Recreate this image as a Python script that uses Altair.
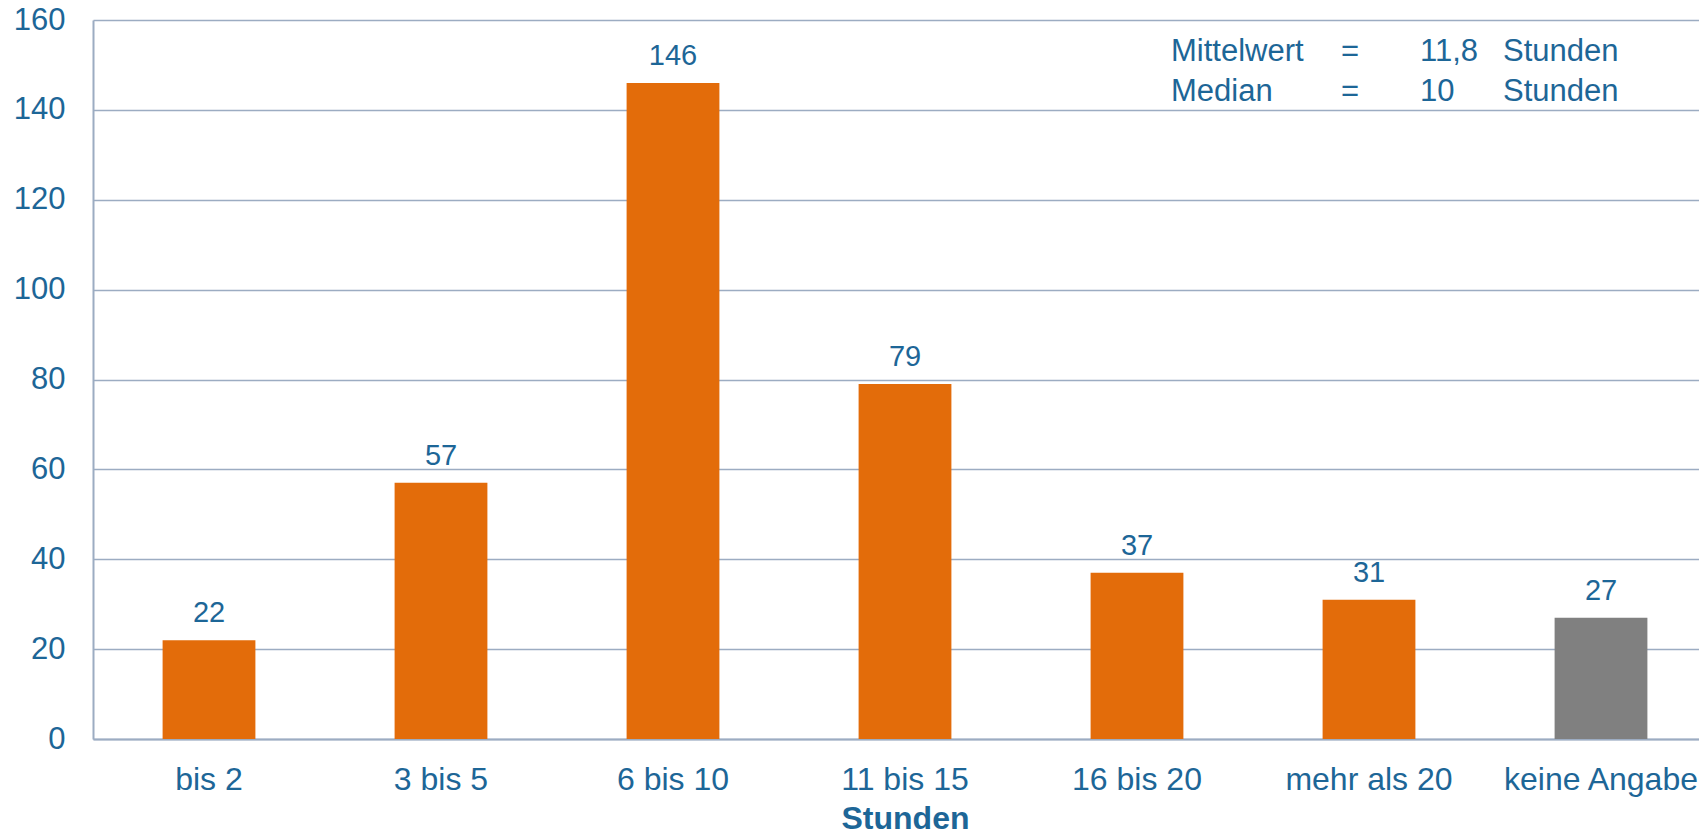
import altair as alt
import pandas as pd

# Weekly hours, respondents per class
categories = ["bis 2", "3 bis 5", "6 bis 10", "11 bis 15", "16 bis 20", "mehr als 20", "keine Angabe"]
counts = [22, 57, 146, 79, 37, 31, 27]

# Summary statistics shown in the top right corner
stat_names = ["Mittelwert", "Median"]
stat_values = ["11,8", "10"]
stat_unit = "Stunden"

BLUE = "#1D6697"
ORANGE = "#E36C0A"
GREY = "#808080"
LINE = "#9CACC2"
FONT = "Liberation Sans, Arial, sans-serif"

df = pd.DataFrame({"Kategorie": categories, "Anzahl": counts})

x_enc = alt.X(
    "Kategorie:N",
    sort=categories,
    scale=alt.Scale(paddingInner=0.6, paddingOuter=0.3, range=[0, 1624]),
    axis=alt.Axis(
        title="Stunden",
        titleFont=FONT,
        titleFontSize=32,
        titleFontWeight="bold",
        titleColor=BLUE,
        titleBaseline="alphabetic",
        titleY=89,
        labelFont=FONT,
        labelFontSize=32,
        labelColor=BLUE,
        labelAngle=0,
        labelBaseline="alphabetic",
        labelPadding=50,
        labelOverlap=False,
        labelFlush=False,
        labelLimit=0,
        ticks=False,
        tickSize=0,
        domainColor=LINE,
        domainWidth=2,
    ),
)

y_enc = alt.Y(
    "Anzahl:Q",
    scale=alt.Scale(domain=[0, 160], nice=False),
    axis=alt.Axis(
        title=None,
        values=list(range(0, 161, 20)),
        labelFont=FONT,
        labelFontSize=31,
        labelColor=BLUE,
        labelPadding=28,
        ticks=False,
        tickSize=0,
        domainColor=LINE,
        domainWidth=2,
        gridColor=LINE,
        gridWidth=1.6,
    ),
)

bars = alt.Chart(df).mark_bar().encode(
    x=x_enc,
    y=y_enc,
    color=alt.condition(
        alt.datum.Kategorie == "keine Angabe", alt.value(GREY), alt.value(ORANGE)
    ),
)

values = alt.Chart(df).mark_text(
    font=FONT, fontSize=29, color=BLUE, baseline="alphabetic", dy=-18
).encode(x=alt.X("Kategorie:N", sort=categories), y="Anzahl:Q", text="Anzahl:Q")

# Summary block: name, "=", value, unit in four columns
layers = [bars, values]
row_y = [41, 81]
for i, (name, val) in enumerate(zip(stat_names, stat_values)):
    cells = [(name, 1078, "left"), ("=", 1257, "center"), (val, 1327, "left"), (stat_unit, 1410, "left")]
    for txt, xpos, al in cells:
        layers.append(
            alt.Chart(pd.DataFrame({"t": [txt]}))
            .mark_text(font=FONT, fontSize=31, color=BLUE, align=al, baseline="alphabetic")
            .encode(text="t:N", x=alt.value(xpos), y=alt.value(row_y[i]))
        )

chart = (
    alt.layer(*layers)
    .properties(
        width=1606,
        height=719,
        autosize=alt.AutoSizeParams(type="none"),
        padding={"left": 93, "top": 20, "right": 0, "bottom": 95},
        background="white",
    )
    .configure_view(stroke=None)
)

chart.save("out.html", embed_options={"renderer": "svg", "actions": False})
